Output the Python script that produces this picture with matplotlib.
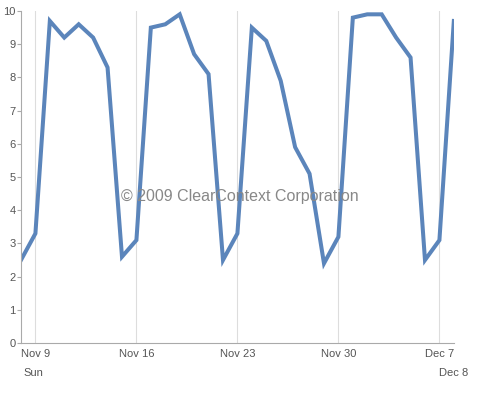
import datetime as dt
import matplotlib
matplotlib.use('Agg')
import matplotlib.pyplot as plt
import matplotlib.dates as mdates
from matplotlib.ticker import FuncFormatter

# daily values, Nov 8 - Dec 8 2009
start = dt.date(2009, 11, 8)
values = [2.5, 3.3, 9.7, 9.2, 9.6, 9.2, 8.3, 2.6, 3.1, 9.5,
          9.6, 9.9, 8.7, 8.1, 2.5, 3.3, 9.5, 9.1, 7.9, 5.9,
          5.1, 2.4, 3.2, 9.8, 9.9, 9.9, 9.2, 8.6, 2.5, 3.1, 9.7]
dates = [start + dt.timedelta(days=i) for i in range(len(values))]
watermark = '\u00a9 2009 ClearContext Corporation'

plt.rcParams['font.family'] = ['Liberation Sans', 'DejaVu Sans']

fig = plt.figure(figsize=(4.88, 3.93), dpi=100)
ax = fig.add_axes([0.043, 0.127, 0.887, 0.845])

ax.plot(dates, values, color='#5b85bb', linewidth=2.9, solid_joinstyle='miter')

ax.set_xlim(dates[0], dates[-1])
ax.set_ylim(0, 10)
ax.set_yticks(range(11))

ax.xaxis.set_major_locator(mdates.WeekdayLocator(byweekday=mdates.MO))
ax.xaxis.set_major_formatter(FuncFormatter(
    lambda x, pos: mdates.num2date(x).strftime('%b ') + str(mdates.num2date(x).day)))
ax.grid(axis='x', color='#dddddd', linewidth=0.8)
ax.set_axisbelow(True)

for s in ['top', 'right']:
    ax.spines[s].set_visible(False)
for s in ['left', 'bottom']:
    ax.spines[s].set_color('#aaaaaa')
    ax.spines[s].set_linewidth(0.8)

ax.tick_params(axis='y', length=3, color='#aaaaaa', labelsize=8, labelcolor='#555555', pad=1)
ax.tick_params(axis='x', length=0, labelsize=8, labelcolor='#555555', pad=4)

# second row labels
ax.text(mdates.date2num(dates[0]) + 0.2, -0.9, 'Sun', ha='left', va='center',
        fontsize=8, color='#555555')
ax.text(dates[-1], -0.9, 'Dec 8', ha='center', va='center',
        fontsize=8, color='#555555', clip_on=False)

fig.text(0.492, 0.50, watermark, ha='center', va='center', fontsize=11.5, color='#888888')

fig.savefig('out.png', dpi=100)
